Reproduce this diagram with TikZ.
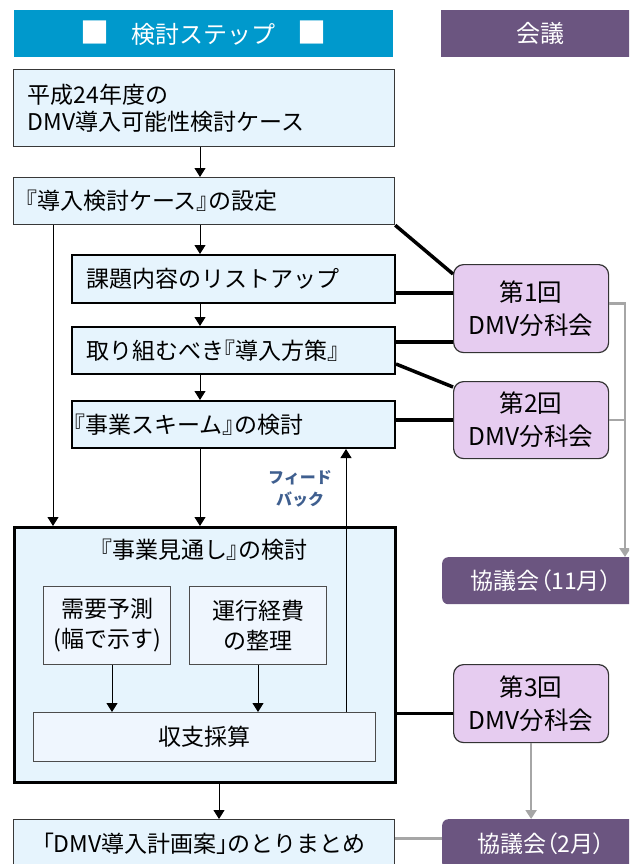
\documentclass[tikz,border=0pt]{standalone}
\usepackage{fontspec}
\newfontfamily\jp{Noto Sans CJK JP}
\newfontfamily\jpp{Noto Sans CJK JP}[RawFeature=+palt]
\usetikzlibrary{arrows.meta}
\definecolor{hdrblue}{HTML}{0099CC}
\definecolor{hdrpurple}{HTML}{6B5580}
\definecolor{stepfill}{HTML}{E6F4FD}
\definecolor{innerfill}{HTML}{EFF6FE}
\definecolor{meetfill}{HTML}{E6CCF0}
\definecolor{fbblue}{HTML}{3F5F8F}
\definecolor{linkgray}{HTML}{A6A6A6}
\newcommand{\jlb}{{\jpp 『}}
\newcommand{\jrb}{{\jpp 』}}
\newcommand{\jlk}{{\jpp 「}}
\newcommand{\jrk}{{\jpp 」}}
\newcommand{\jlp}{{\jpp （}}
\newcommand{\jrp}{{\jpp ）}}
\newcommand{\bigsq}{{\fontsize{29}{28}\selectfont ■}}
\begin{document}
\begin{tikzpicture}[x=1pt,y=-1pt,
  every node/.style={font=\jp},
  hdr/.style={rectangle, minimum height=47pt, inner sep=0pt, text=white, anchor=north west, font=\jp\fontsize{24}{28}\selectfont},
  stepbox/.style={rectangle, draw=black!78, line width=1.2pt, fill=stepfill, anchor=north west, align=left, inner ysep=0pt, font=\jp\fontsize{23}{27}\selectfont},
  keybox/.style={stepbox, draw=black, line width=2pt},
  bigbox/.style={rectangle, draw=black, line width=2.5pt, fill=stepfill, anchor=north west, inner sep=0pt},
  subbox/.style={rectangle, draw=black!70, line width=1pt, fill=innerfill, anchor=north west, align=center, inner sep=0pt, font=\jp\fontsize{23}{30}\selectfont},
  meet/.style={rectangle, rounded corners=10pt, draw=black!80, line width=1.2pt, fill=meetfill, anchor=north west, align=center, inner sep=0pt, font=\jp\fontsize{24.5}{33}\selectfont},
  council/.style={rectangle, rounded corners=6pt, fill=hdrpurple, text=white, anchor=north west, inner sep=0pt, font=\jp\fontsize{23}{25}\selectfont},
  arr/.style={line width=1pt, -{Triangle[width=11pt,length=9pt]}},
  heavy/.style={line width=3.5pt},
  glink/.style={line width=2.5pt, draw=linkgray},
  garr/.style={glink, -{Triangle[width=11pt,length=9pt]}},
]
\useasboundingbox (0,0) rectangle (629,864);
\clip (0,0) rectangle (629,864);

% headers
\node[hdr, fill=hdrblue, minimum width=379pt] (h1) at (14,10) {\bigsq\hspace{22pt}検討ステップ\hspace{22pt}\bigsq};
\node[hdr, fill=hdrpurple, minimum width=198pt] (h2) at (441,10) {会議};

% step boxes
\node[stepbox, inner xsep=14pt, text width=353pt, minimum width=381pt, minimum height=77pt] (b1) at (13,69) {平成24年度の\\DMV導入可能性検討ケース};
\node[stepbox, inner xsep=12pt, text width=357pt, minimum width=381pt, minimum height=47pt] (b2) at (13,177) {\jlb 導入検討ケース\jrb の設定};
\node[keybox, inner xsep=14pt, text width=295pt, minimum width=323pt, minimum height=48pt] (b3) at (71,254) {課題内容のリストアップ};
\node[keybox, inner xsep=14pt, text width=295pt, minimum width=323pt, minimum height=47pt] (b4) at (71,326) {取り組むべき\jlb 導入方策\jrb};
\node[keybox, inner xsep=2pt, text width=319pt, minimum width=323pt, minimum height=47pt] (b5) at (71,400) {\jlb 事業スキーム\jrb の検討};

% big box
\node[bigbox, minimum width=381pt, minimum height=255pt] (big) at (13,526) {};
\node[font=\jp\fontsize{23}{27}\selectfont] (bigt) at (204,550) {\jlb 事業見通し\jrb の検討};
\node[subbox, minimum width=127pt, minimum height=78pt] (dem) at (43,586) {需要予測\\(幅で示す)};
\node[subbox, minimum width=137pt, minimum height=78pt] (ope) at (189,586) {運行経費\\の整理};
\node[subbox, minimum width=342pt, minimum height=49pt] (bal) at (33,712) {収支採算};

\node[stepbox, align=center, minimum width=381pt, minimum height=48pt] (fin) at (13,819) {\jlk DMV導入計画案\jrk のとりまとめ};

% meetings
\node[meet, minimum width=155pt, minimum height=88pt] (m1) at (453,264) {第1回\\DMV分科会};
\node[meet, minimum width=155pt, minimum height=77pt] (m2) at (453,381) {第2回\\DMV分科会};
\node[meet, minimum width=155pt, minimum height=78pt] (m3) at (453,664) {第3回\\DMV分科会};
\node[council, minimum width=198pt, minimum height=47pt] (k11) at (442,557) {協議会\jlp 11月\jrp};
\node[council, minimum width=198pt, minimum height=50pt] (k2) at (442,819) {協議会\jlp 2月\jrp};

% feedback label
\node[font=\jp\bfseries\fontsize{16}{22}\selectfont, text=fbblue, align=center] (fb) at (300,489) {フィード\\バック};

% arrows
\coordinate (ax) at (200,0);
\draw[arr] (b1.south -| ax) -- (b2.north -| ax);
\draw[arr] (b2.south -| ax) -- (b3.north -| ax);
\draw[arr] (b3.south -| ax) -- (b4.north -| ax);
\draw[arr] (b4.south -| ax) -- (b5.north -| ax);
\draw[arr] (b5.south -| ax) -- (big.north -| ax);
\coordinate (lx) at (53,0);
\draw[arr] (b2.south -| lx) -- (big.north -| lx);
\coordinate (dx) at (112,0);
\draw[arr] (dem.south -| dx) -- (bal.north -| dx);
\draw[arr] (ope.south) -- (ope.south |- bal.north);
\coordinate (fx) at (219,0);
\draw[arr] (big.south -| fx) -- (fin.north -| fx);
\coordinate (fbx) at (346,0);
\draw[arr] (bal.north -| fbx) -- (b5.south -| fbx);

% heavy links
\draw[heavy] (b2.south east) -- ([yshift=-10pt]m1.north west);
\coordinate (c3) at ([yshift=-14pt]b3.east);
\draw[heavy] (c3) -- (c3 -| m1.west);
\coordinate (c4) at ([yshift=8.5pt]b4.east);
\draw[heavy] (c4) -- (c4 -| m1.west);
\draw[heavy] ([yshift=-13.5pt]b4.east) -- ([yshift=-6pt]m2.north west);
\draw[heavy] (m2.west -| b5.east) -- (m2.west);
\coordinate (c6) at ([yshift=-10pt]m3.west);
\draw[heavy] (c6 -| big.east) -- (c6);

% gray links
\coordinate (gx) at (625,0);
\draw[garr] ([yshift=5pt]m1.east) -| (k11.north -| gx);
\draw[glink] (m2.east) -- (m2.east -| gx);
\draw[garr] (m3.south) -- (m3.south |- k2.north);
\coordinate (c7) at ([yshift=5pt]fin.east);
\draw[glink] (c7) -- (c7 -| k2.west);
\end{tikzpicture}
\end{document}
